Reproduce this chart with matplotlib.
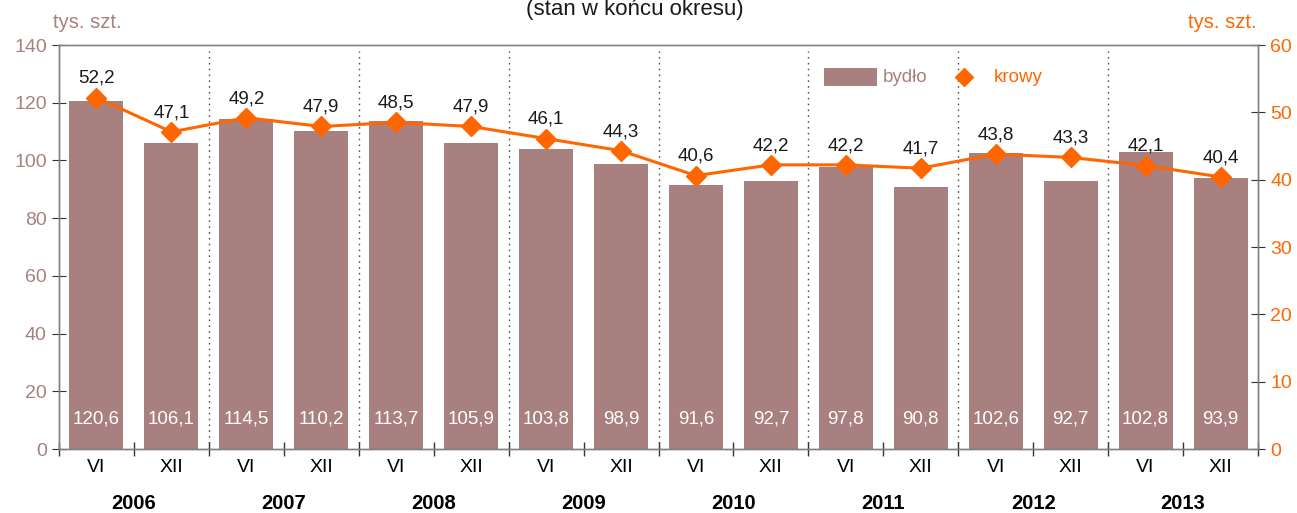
import matplotlib.pyplot as plt
import numpy as np

plt.rcParams['font.family'] = ['Liberation Sans', 'DejaVu Sans']

years = ['2006', '2007', '2008', '2009', '2010', '2011', '2012', '2013']
halves = ['VI', 'XII']
bydlo = [120.6, 106.1, 114.5, 110.2, 113.7, 105.9, 103.8, 98.9,
         91.6, 92.7, 97.8, 90.8, 102.6, 92.7, 102.8, 93.9]
krowy = [52.2, 47.1, 49.2, 47.9, 48.5, 47.9, 46.1, 44.3,
         40.6, 42.2, 42.2, 41.7, 43.8, 43.3, 42.1, 40.4]

bar_col = '#a98080'
line_col = '#ff6600'
grey = '#808080'

fig = plt.figure(figsize=(12.97, 5.13), dpi=100)
ax = fig.add_axes([59 / 1297, 1 - 449 / 513, 1199 / 1297, 404 / 513])
ax2 = ax.twinx()

x = np.arange(len(bydlo))
ax.bar(x, bydlo, width=0.72, color=bar_col, zorder=2)
for xi, v in zip(x, bydlo):
    ax.text(xi, 10.4, f'{v:.1f}'.replace('.', ','), color='white',
            ha='center', va='center', fontsize=13.5, zorder=3)

ax2.plot(x, krowy, color=line_col, lw=2.2, marker='D', ms=10, zorder=4)
for xi, v in zip(x, krowy):
    ax2.text(xi, v + 2.85, f'{v:.1f}'.replace('.', ','), color='#1a1a1a',
             ha='center', va='center', fontsize=13.5)

ax.set_xlim(-0.5, len(bydlo) - 0.5)
ax.set_ylim(0, 140)
ax2.set_ylim(0, 60)
ax.set_yticks(np.arange(0, 141, 20))
ax2.set_yticks(np.arange(0, 61, 10))

# year separators
for k in range(1, len(years)):
    ax.axvline(2 * k - 0.5, ymax=0.985, color='#555555', lw=1,
               ls=(0, (1.2, 3)), zorder=1)

ax.set_xticks(np.arange(-0.5, len(bydlo), 1))
ax.set_xticklabels([])
ax.tick_params(axis='x', direction='inout', length=9.5, color='#333333', width=1)
ax.tick_params(axis='y', direction='inout', length=9.5, color='#333333',
               labelcolor=bar_col, labelsize=14, pad=4)
ax2.tick_params(axis='y', direction='inout', length=9.5, color='#333333',
                labelcolor=line_col, labelsize=14, pad=4)

for xi in x:
    ax.text(xi, -0.047, halves[xi % 2], transform=ax.get_xaxis_transform(),
            ha='center', va='center', fontsize=14)
for k, yr in enumerate(years):
    ax.text(2 * k + 0.5, -0.136, yr, transform=ax.get_xaxis_transform(),
            ha='center', va='center', fontsize=14.5, fontweight='bold')

for a in (ax, ax2):
    for s in a.spines.values():
        s.set_color(grey)
        s.set_linewidth(1)
ax.spines['top'].set_color('#999999')

fig.text(53 / 1297, 1 - 22 / 513, 'tys. szt.', color=bar_col, fontsize=14.5,
         ha='left', va='center')
fig.text(1257 / 1297, 1 - 22 / 513, 'tys. szt.', color=line_col, fontsize=14.5,
         ha='right', va='center')
fig.text(635 / 1297, 1 - 15 / 513, '(stan w końcu okresu)', color='#1a1a1a',
         fontsize=16, ha='center', va='baseline')

# legend
ax.bar([10.06], [6.2], bottom=[125.8], width=0.7, color=bar_col, zorder=2)
ax.text(10.49, 128.9, 'bydło', color=bar_col, fontsize=13.5, va='center')
ax.plot([11.58], [128.9], marker='D', color=line_col, ms=9, zorder=4)
ax.text(11.98, 128.9, 'krowy', color=line_col, fontsize=13.5, va='center')

fig.savefig('out.png', dpi=100)
